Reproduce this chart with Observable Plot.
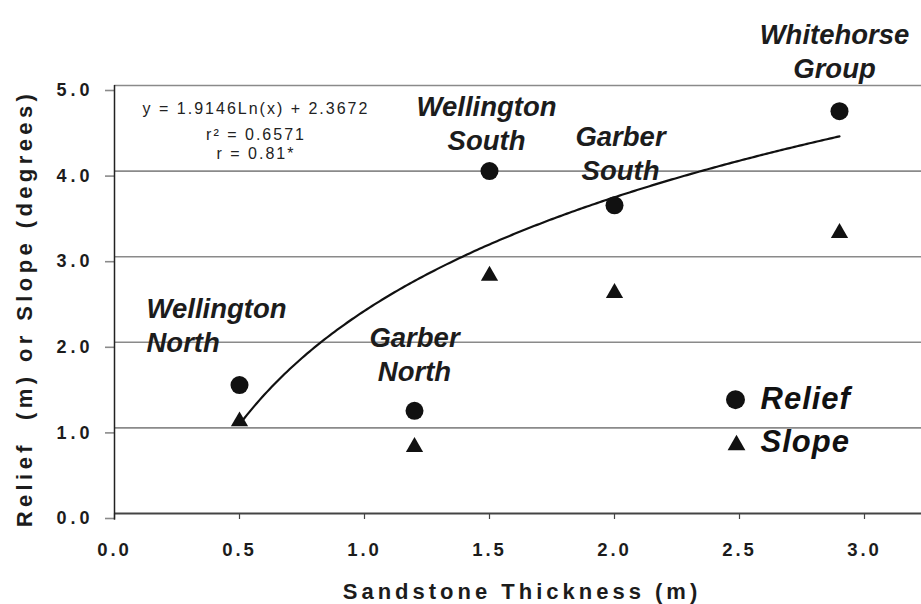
<!DOCTYPE html>
<html>
<head>
<meta charset="utf-8">
<script src="https://cdn.jsdelivr.net/npm/d3@7"></script>
<script src="https://cdn.jsdelivr.net/npm/@observablehq/plot@0.6"></script>
<style>
  html, body { margin: 0; padding: 0; background: #fff; }
  svg { font-family: "Liberation Sans", Arial, sans-serif; }
  g[aria-label="y-axis tick label"] text { letter-spacing: 4px; }
  g[aria-label="x-axis tick label"] text { letter-spacing: 3px; }
</style>
</head>
<body>
<div id="chart"></div>
<script>
// ---- data ----
const sites = ["Wellington North", "Garber North", "Wellington South", "Garber South", "Whitehorse Group"];
const thickness = [0.5, 1.2, 1.5, 2.0, 2.9];
const relief = [1.5, 1.2, 4.0, 3.6, 4.7];
const slope = [1.1, 0.8, 2.8, 2.6, 3.3];
const xTicks = [0, 0.5, 1.0, 1.5, 2.0, 2.5, 3.0];
const yTicks = [0, 1, 2, 3, 4, 5];
const gridValues = [1, 2, 3, 4, 5];
// fitted trendline stated on the chart: y = 1.9146 Ln(x) + 2.3672
const fitSlope = 1.9146;
const fitIntercept = 2.3672;
const fitRange = [0.5, 2.9];
const equationLines = ["y = 1.9146Ln(x) + 2.3672", "r² = 0.6571", "r = 0.81*"];
const legendItems = ["Relief", "Slope"];
const xTitle = "Sandstone Thickness (m)";
const yTitle = "Relief  (m) or Slope (degrees)";

// ---- tables built from the arrays ----
const reliefPts = thickness.map((x, i) => ({x, y: relief[i], site: sites[i]}));
const slopePts = thickness.map((x, i) => ({x, y: slope[i], site: sites[i]}));
const curve = d3.range(fitRange[0], fitRange[1] + 1e-9, 0.01)
  .map(x => ({x, y: fitSlope * Math.log(x) + fitIntercept}));

// ---- annotation layout (label placement in data units) ----
const siteLabelLayout = [
  {x: 0.128, y: 2.57, anchor: "start"},
  {x: 1.2, y: 2.23, anchor: "middle"},
  {x: 1.488, y: 4.93, anchor: "middle"},
  {x: 2.024, y: 4.58, anchor: "middle"},
  {x: 2.88, y: 5.77, anchor: "middle"}
];
const siteLabels = sites.map((s, i) => ({text: s.replace(" ", "\n"), ...siteLabelLayout[i]}));
const eqLayout = [{x: 0.566, y: 4.80}, {x: 0.566, y: 4.50}, {x: 0.566, y: 4.27}];
const eqData = equationLines.map((t, i) => ({text: t, ...eqLayout[i]}));
const legendMarkerLayout = [{x: 2.484, y: 1.33}, {x: 2.488, y: 0.80}];
const legendTextLayout = [{x: 2.584, y: 1.48}, {x: 2.584, y: 0.98}];

const ink = "#111";
const grid = "#8a8a8a";
const labelStyle = {fontSize: 27.5, fontWeight: "bold", fontStyle: "italic", fill: "#1c1c1c", lineHeight: 1.24, lineAnchor: "top"};

const chart = Plot.plot({
  width: 921,
  height: 604,
  marginLeft: 114,
  marginRight: 0,
  marginTop: 85,
  marginBottom: 91,
  x: {domain: [0, 3.228]},
  y: {domain: [0, 5]},
  marks: [
    Plot.ruleY(gridValues, {stroke: grid, strokeWidth: 1.6}),
    Plot.axisY({
      ticks: yTicks, tickSize: 9, tickPadding: 12, stroke: grid, strokeWidth: 1.6,
      tickFormat: d => d.toFixed(1), fontSize: 18, fontWeight: "bold", fill: "#1c1c1c",
      label: null, dy: 5
    }),
    Plot.axisX({
      ticks: xTicks, tickSize: 6, tickPadding: 23, stroke: "#444", strokeWidth: 1.2,
      tickFormat: d => d.toFixed(1), fontSize: 18.5, fontWeight: "bold", fill: "#1c1c1c",
      label: null
    }),
    Plot.ruleY([0], {stroke: "#444", strokeWidth: 1.8}),
    Plot.ruleX([0], {y1: -0.08, y2: 5, stroke: "#222", strokeWidth: 1.5}),
    Plot.line(curve, {x: "x", y: "y", stroke: ink, strokeWidth: 2.2}),
    Plot.dot(reliefPts, {x: "x", y: "y", r: 9, fill: ink, stroke: "none", symbol: "circle"}),
    Plot.dot(slopePts, {x: "x", y: "y", r: 6.4, fill: ink, stroke: "none", symbol: "triangle", dy: 2}),
    Plot.text(siteLabels.filter(d => d.anchor === "middle"), {
      x: "x", y: "y", text: "text", textAnchor: "middle", ...labelStyle
    }),
    Plot.text(siteLabels.filter(d => d.anchor === "start"), {
      x: "x", y: "y", text: "text", textAnchor: "start", ...labelStyle
    }),
    Plot.text(eqData, {
      x: "x", y: "y", text: "text", textAnchor: "middle", lineAnchor: "top",
      fontSize: 16, fill: "#222"
    }),
    Plot.dot([legendMarkerLayout[0]], {x: "x", y: "y", r: 9.5, fill: ink, symbol: "circle"}),
    Plot.dot([legendMarkerLayout[1]], {x: "x", y: "y", r: 6.6, fill: ink, symbol: "triangle"}),
    Plot.text(legendItems.map((t, i) => ({text: t, ...legendTextLayout[i]})), {
      x: "x", y: "y", text: "text", textAnchor: "start", lineAnchor: "top",
      fontSize: 31, fontWeight: "bold", fontStyle: "italic", fill: "#111"
    }),
    Plot.text([xTitle], {
      frameAnchor: "bottom", text: d => d, textAnchor: "middle", lineAnchor: "bottom",
      dy: 85, dx: 4, fontSize: 22, fontWeight: "bold", fill: "#1c1c1c"
    }),
    Plot.text([yTitle], {
      frameAnchor: "left", text: d => d, textAnchor: "middle", lineAnchor: "middle",
      rotate: -90, dx: -90, dy: 9, fontSize: 22, fontWeight: "bold", fill: "#1c1c1c"
    })
  ]
});

// letter spacing (styling only) for texts drawn by the marks above
const spacing = new Map([
  [xTitle, "4px"],
  [yTitle, "4.4px"],
  [legendItems[0], "1px"],
  [legendItems[1], "1px"],
  ...equationLines.map(t => [t, "2px"])
]);
d3.select(chart).selectAll("text").each(function() {
  const s = spacing.get(this.textContent);
  if (s) d3.select(this).style("letter-spacing", s);
});
document.getElementById("chart").appendChild(chart);
</script>
</body>
</html>
